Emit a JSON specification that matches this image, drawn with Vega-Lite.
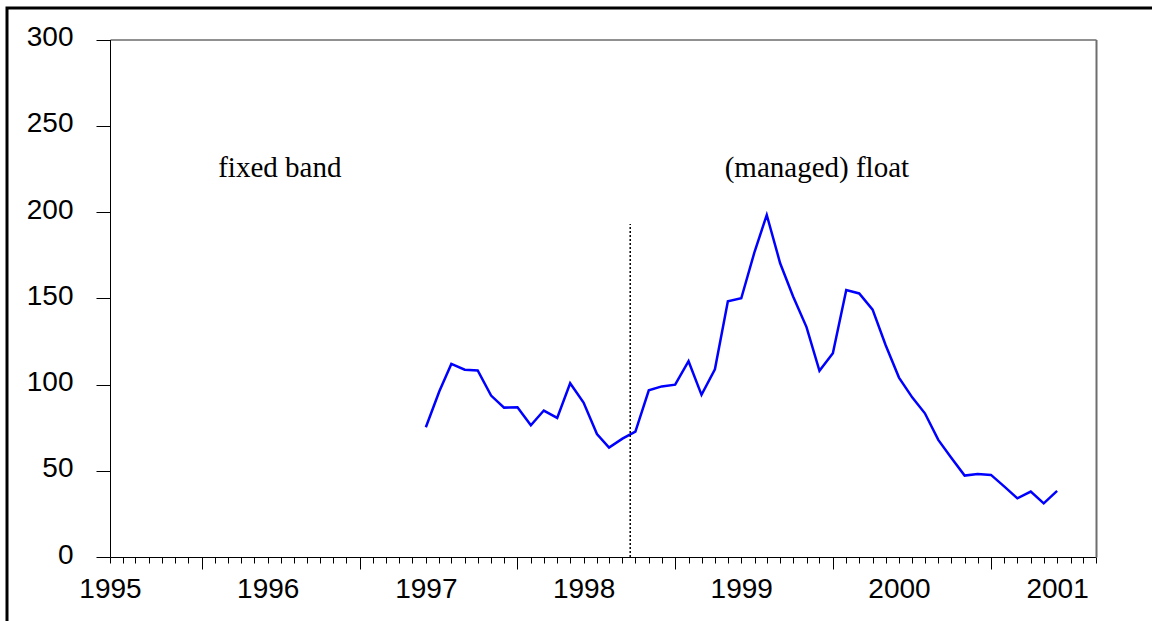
{
  "$schema": "https://vega.github.io/schema/vega-lite/v6.json",
  "width": 1148,
  "height": 616,
  "autosize": "none",
  "padding": {"left": 7, "top": 8, "right": -3, "bottom": -3},
  "background": "white",
  "config": {"view": {"stroke": "black", "strokeWidth": 3}, "axis": {"grid": false}},
  "datasets": {
    "series": [
      {"month": "1997-01-01", "value": 75.2},
      {"month": "1997-02-01", "value": 95.9},
      {"month": "1997-03-01", "value": 111.9},
      {"month": "1997-04-01", "value": 108.6},
      {"month": "1997-05-01", "value": 108.1},
      {"month": "1997-06-01", "value": 93.6},
      {"month": "1997-07-01", "value": 86.6},
      {"month": "1997-08-01", "value": 86.8},
      {"month": "1997-09-01", "value": 76.4},
      {"month": "1997-10-01", "value": 84.9},
      {"month": "1997-11-01", "value": 80.6},
      {"month": "1997-12-01", "value": 100.7},
      {"month": "1998-01-01", "value": 89.5},
      {"month": "1998-02-01", "value": 71.3},
      {"month": "1998-03-01", "value": 63.4},
      {"month": "1998-04-01", "value": 68.6},
      {"month": "1998-05-01", "value": 72.7},
      {"month": "1998-06-01", "value": 96.6},
      {"month": "1998-07-01", "value": 98.9},
      {"month": "1998-08-01", "value": 99.9},
      {"month": "1998-09-01", "value": 113.5},
      {"month": "1998-10-01", "value": 94.0},
      {"month": "1998-11-01", "value": 108.8},
      {"month": "1998-12-01", "value": 148.3},
      {"month": "1999-01-01", "value": 150.0},
      {"month": "1999-02-01", "value": 177.1},
      {"month": "1999-03-01", "value": 198.3},
      {"month": "1999-04-01", "value": 170.3},
      {"month": "1999-05-01", "value": 151.0},
      {"month": "1999-06-01", "value": 133.3},
      {"month": "1999-07-01", "value": 107.9},
      {"month": "1999-08-01", "value": 118.1},
      {"month": "1999-09-01", "value": 154.8},
      {"month": "1999-10-01", "value": 152.8},
      {"month": "1999-11-01", "value": 143.4},
      {"month": "1999-12-01", "value": 122.9},
      {"month": "2000-01-01", "value": 104.0},
      {"month": "2000-02-01", "value": 92.4},
      {"month": "2000-03-01", "value": 83.3},
      {"month": "2000-04-01", "value": 67.9},
      {"month": "2000-05-01", "value": 57.6},
      {"month": "2000-06-01", "value": 47.2},
      {"month": "2000-07-01", "value": 48.1},
      {"month": "2000-08-01", "value": 47.6},
      {"month": "2000-09-01", "value": 40.8},
      {"month": "2000-10-01", "value": 34.0},
      {"month": "2000-11-01", "value": 37.9},
      {"month": "2000-12-01", "value": 31.1},
      {"month": "2001-01-01", "value": 38.3}
    ]
  },
  "layer": [
    {
      "data": {"name": "series"},
      "mark": {"type": "line", "color": "#0000FF", "strokeWidth": 2.5},
      "encoding": {
        "x": {
          "field": "month",
          "type": "temporal",
          "scale": {
            "type": "utc",
            "nice": false,
            "domain": [
              {"year": 1995, "month": 1, "date": 1, "utc": true},
              {"year": 2001, "month": 4, "date": 1, "utc": true}
            ],
            "range": [103, 1089]
          },
          "axis": {
            "orient": "bottom",
            "offset": -67,
            "title": null,
            "grid": false,
            "tickCount": {"interval": "month", "step": 1},
            "tickSize": 6,
            "tickColor": "black",
            "tickWidth": 1,
            "domainColor": "black",
            "domainWidth": 1,
            "labelExpr": "utcmonth(datum.value) == 0 ? utcFormat(datum.value, '%Y') : ''",
            "labelOverlap": false,
            "labelFlush": false,
            "labelBound": false,
            "labelFont": "Liberation Sans",
            "labelFontSize": 28,
            "labelColor": "black",
            "labelAlign": "center",
            "labelBaseline": "alphabetic",
            "labelPadding": 34
          }
        },
        "y": {
          "field": "value",
          "type": "quantitative",
          "scale": {"domain": [0, 300], "nice": false, "range": [549, 31.5]},
          "axis": {
            "orient": "left",
            "offset": -103,
            "title": null,
            "grid": false,
            "values": [0, 50, 100, 150, 200, 250, 300],
            "tickSize": 14,
            "tickColor": "black",
            "tickWidth": 1,
            "domainColor": "black",
            "domainWidth": 1,
            "labelFont": "Liberation Sans",
            "labelFontSize": 28,
            "labelColor": "black",
            "labelPadding": 23,
            "labelBaseline": "alphabetic",
            "labelOffset": 6,
            "labelFlush": false,
            "labelBound": false,
            "labelOverlap": false
          }
        }
      }
    },
    {
      "data": {"values": [{"date": "1998-04-19", "lo": 0, "hi": 193}]},
      "mark": {"type": "rule", "color": "black", "strokeDash": [2, 2], "strokeWidth": 1.5},
      "encoding": {
        "x": {
          "field": "date",
          "type": "temporal",
          "axis": {
            "orient": "bottom",
            "offset": -67,
            "title": null,
            "grid": false,
            "labels": false,
            "domain": false,
            "tickSize": 12,
            "tickColor": "black",
            "tickWidth": 1,
            "values": [
              {"year": 1995, "month": 8, "date": 1, "utc": true},
              {"year": 1996, "month": 8, "date": 1, "utc": true},
              {"year": 1997, "month": 8, "date": 1, "utc": true},
              {"year": 1998, "month": 8, "date": 1, "utc": true},
              {"year": 1999, "month": 8, "date": 1, "utc": true},
              {"year": 2000, "month": 8, "date": 1, "utc": true}
            ]
          }
        },
        "y": {
          "field": "lo",
          "type": "quantitative",
          "axis": {
            "orient": "right",
            "offset": -59,
            "title": null,
            "grid": false,
            "ticks": false,
            "labels": false,
            "domainColor": "#6e6e6e",
            "domainWidth": 2
          }
        },
        "y2": {"field": "hi"}
      }
    },
    {
      "data": {
        "values": [
          {"date": "1996-01-29", "v": 220.4, "label": "fixed band"},
          {"date": "1999-06-25", "v": 220.4, "label": "(managed) float"}
        ]
      },
      "mark": {"type": "text", "font": "Liberation Serif", "fontSize": 29, "color": "black", "align": "center", "baseline": "alphabetic"},
      "encoding": {
        "x": {
          "field": "date",
          "type": "temporal",
          "axis": {
            "orient": "top",
            "offset": -31.5,
            "title": null,
            "grid": false,
            "ticks": false,
            "labels": false,
            "domainColor": "#222222",
            "domainWidth": 1
          }
        },
        "y": {"field": "v", "type": "quantitative", "axis": null},
        "text": {"field": "label"}
      }
    }
  ],
  "resolve": {"axis": {"x": "independent", "y": "independent"}}
}
